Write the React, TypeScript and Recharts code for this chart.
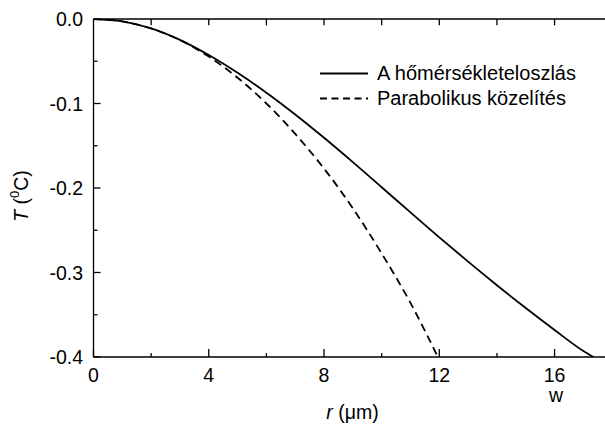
import React from 'react';
import { LineChart, Line, XAxis, YAxis, Legend, ReferenceLine } from 'recharts';

const rSolid = [0, 1, 2, 3, 4, 5, 6, 7, 8, 9, 10, 11, 12, 13, 14, 15, 16, 17, 17.35];
const tSolid = [0, -0.0028, -0.0111, -0.0247, -0.0427, -0.0637, -0.0872, -0.113, -0.1406, -0.1694, -0.1991, -0.2289, -0.2584, -0.2871, -0.315, -0.342, -0.368, -0.3929, -0.4];

const rPara = [0, 1, 2, 3, 4, 5, 6, 7, 8, 9, 10, 11, 11.95];
const tPara = [0, -0.0028, -0.0112, -0.025, -0.0445, -0.0695, -0.1, -0.136, -0.177, -0.224, -0.2775, -0.336, -0.4];

const xTicks = [0, 2, 4, 6, 8, 10, 12, 14, 16];
const yTicks = [0, -0.05, -0.1, -0.15, -0.2, -0.25, -0.3, -0.35, -0.4];
const seriesNames = ['A hőmérsékleteloszlás', 'Parabolikus közelítés'];
const topTickLength = 0.0075;

const solidData = rSolid.map((r, i) => ({ r, t: tSolid[i] }));
const paraData = rPara.map((r, i) => ({ r, t: tPara[i] }));

const FONT = '"Liberation Sans", Arial, sans-serif';
const FS = 19.5;

const XTickBottom = (props: any) => {
  const { x, y, payload } = props;
  const v = payload.value;
  const major = v % 4 === 0;
  return (
    <g>
      <line x1={x} x2={x} y1={y} y2={y - (major ? 8 : 4)} stroke="#000" strokeWidth={1.3} />
      {major && (
        <text x={x} y={y + 18} textAnchor="middle" dominantBaseline="central" fontFamily={FONT} fontSize={FS} fill="#000">
          {v}
        </text>
      )}
    </g>
  );
};

const YTick = (props: any) => {
  const { x, y, payload } = props;
  const v = payload.value;
  const major = Math.abs(v * 10 - Math.round(v * 10)) < 1e-6;
  return (
    <g>
      <line x1={x} x2={x + (major ? 7 : 4)} y1={y} y2={y} stroke="#000" strokeWidth={1.3} />
      {major && (
        <text x={x - 10.5} y={y} textAnchor="end" dominantBaseline="central" fontFamily={FONT} fontSize={FS} fill="#000">
          {v === 0 ? '0.0' : v.toFixed(1)}
        </text>
      )}
    </g>
  );
};

const LegendContent = () => (
  <div style={{ fontFamily: FONT, fontSize: 20, color: '#000', lineHeight: '25px' }}>
    {seriesNames.map((name, i) => (
      <div key={name} style={{ display: 'flex', alignItems: 'center', height: 25, whiteSpace: 'nowrap' }}>
        <svg width={57} height={25} style={{ display: 'block' }}>
          <line x1={0} x2={48} y1={12.5} y2={12.5} stroke="#000" strokeWidth={1.8} strokeDasharray={i === 1 ? '7 4.5' : undefined} />
        </svg>
        <span>{name}</span>
      </div>
    ))}
  </div>
);

export default function App() {
  return (
    <div style={{ position: 'absolute', left: 0, top: 0, width: 605, height: 424, background: '#fff' }}>
      <LineChart width={605} height={424} margin={{ top: 18, right: 0, bottom: 66, left: 0 }}>
        <XAxis
          xAxisId="bottom"
          dataKey="r"
          type="number"
          domain={[0, 17.75]}
          allowDataOverflow
          ticks={xTicks}
          interval={0}
          height={1}
          tickSize={0}
          tickMargin={0}
          tick={<XTickBottom />}
          tickLine={false}
          axisLine={{ stroke: '#000', strokeWidth: 1.3 }}
        />
        <XAxis
          xAxisId="top"
          orientation="top"
          dataKey="r"
          type="number"
          domain={[0, 17.75]}
          allowDataOverflow
          ticks={xTicks}
          interval={0}
          height={1}
          tick={false}
          tickLine={false}
          axisLine={{ stroke: '#000', strokeWidth: 1.3 }}
        />
        <YAxis
          dataKey="t"
          type="number"
          domain={[-0.4, 0]}
          allowDataOverflow
          ticks={yTicks}
          interval={0}
          width={93.5}
          tickSize={0}
          tickMargin={0}
          tick={<YTick />}
          tickLine={false}
          axisLine={{ stroke: '#000', strokeWidth: 1.3 }}
        />
        {xTicks.slice(1).map((v) => (
          <ReferenceLine
            key={v}
            xAxisId="bottom"
            segment={[{ x: v, y: 0 }, { x: v, y: -topTickLength }]}
            stroke="#000"
            strokeWidth={1.3}
            ifOverflow="visible"
          />
        ))}
        <Legend
          verticalAlign="middle"
          align="center"
          layout="vertical"
          wrapperStyle={{ position: 'absolute', left: 320, top: 61, width: 290 }}
          content={<LegendContent />}
        />
        <Line
          xAxisId="bottom"
          data={solidData}
          dataKey="t"
          name={seriesNames[0]}
          type="monotone"
          stroke="#000"
          strokeWidth={1.8}
          dot={false}
          isAnimationActive={false}
        />
        <Line
          xAxisId="top"
          data={paraData}
          dataKey="t"
          name={seriesNames[1]}
          type="monotone"
          stroke="#000"
          strokeWidth={1.8}
          strokeDasharray="8 5"
          dot={false}
          isAnimationActive={false}
        />
        <text x={352.5} y={411.5} textAnchor="middle" dominantBaseline="central" fontFamily={FONT} fontSize={FS} fill="#000">
          <tspan fontStyle="italic">r</tspan>
          <tspan> (μm)</tspan>
        </text>
        <text x={556} y={395} textAnchor="middle" dominantBaseline="central" fontFamily={FONT} fontSize={FS} fill="#000">
          w
        </text>
        <text
          x={21}
          y={196}
          transform="rotate(-90, 21, 196)"
          textAnchor="middle"
          dominantBaseline="central"
          fontFamily={FONT}
          fontSize={FS}
          fill="#000"
        >
          <tspan fontStyle="italic">T</tspan>
          <tspan> (</tspan>
          <tspan fontSize={13} dy={-7}>0</tspan>
          <tspan dy={7}>C)</tspan>
        </text>
      </LineChart>
    </div>
  );
}
